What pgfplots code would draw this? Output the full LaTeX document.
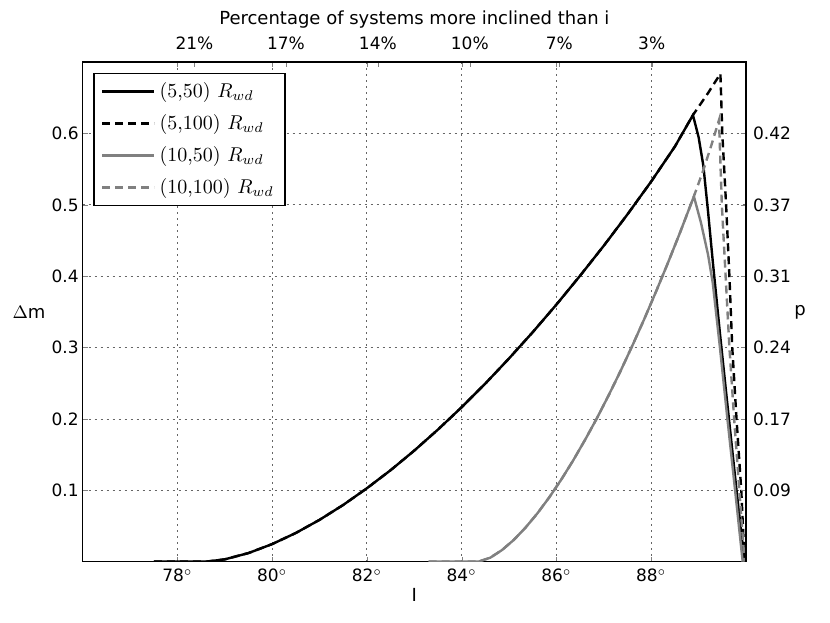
\documentclass[border=0pt]{standalone}
\usepackage{pgfplots}
\pgfplotsset{compat=1.18}
\usepackage{fontspec}
\setsansfont{DejaVu Sans}
\definecolor{lgray}{RGB}{128,128,128}
\begin{document}
\begin{tikzpicture}
\pgfplotsset{every axis/.append style={font=\sffamily\fontsize{8.5}{10}\selectfont},
  every axis label/.append style={font=\sffamily\fontsize{9}{11}\selectfont}}
\begin{axis}[name=main,
  width=331.65pt, height=249.7pt, scale only axis,
  xmin=76, xmax=90, ymin=0, ymax=0.7,
  xtick={78,80,82,84,86,88},
  xticklabels={78$^\circ$,80$^\circ$,82$^\circ$,84$^\circ$,86$^\circ$,88$^\circ$},
  ytick={0.1,0.2,0.3,0.4,0.5,0.6},
  yticklabels={0.1,0.2,0.3,0.4,0.5,0.6},
  yticklabel style={xshift=1.5pt},
  grid=major, grid style={black!60, line width=0.5pt, dash pattern=on 1pt off 2pt},
  tick align=inside, major tick length=2.5pt,
  axis line style={line width=0.8pt},
  every axis x label/.style={at={(rel axis cs:0.5,0)}, anchor=center, yshift=-16.65pt},
  every axis y label/.style={at={(rel axis cs:0,0.5)}, anchor=center, xshift=-26.85pt},
  xlabel={I}, ylabel={$\Delta$m},
  legend style={at={(0.016,0.979)}, anchor=north west,
    font=\rmfamily\fontsize{10}{12}\selectfont, draw=black, line width=0.8pt,
    row sep=3pt, inner xsep=3.5pt, inner ysep=2.5pt},
  legend cell align=left,
  legend image code/.code={\draw[#1, line width=1.2pt] (0pt,0pt) -- (16pt,0pt); \path (0pt,0pt) -- (26pt,0pt);},
]
\addplot[black, line width=1.2pt] coordinates {
(77.5,0) (78.0,0) (78.6,0) (79.0,0.0033) (79.5,0.0121) (80.0,0.0247) (80.5,0.0403)
(81.0,0.0587) (81.5,0.0796) (82.0,0.103) (82.5,0.1283) (83.0,0.1558) (83.5,0.1853)
(84.0,0.2166) (84.5,0.2498) (85.0,0.2850) (85.5,0.3218) (86.0,0.3605) (86.5,0.4010)
(87.0,0.4430) (87.5,0.4870) (88.0,0.5330) (88.5,0.5820) (88.88,0.6260)
(89.0,0.595) (89.1,0.555) (89.2,0.490) (89.3,0.420) (89.45,0.320) (89.6,0.225) (89.8,0.100) (89.97,0)
};
\addlegendentry{(5,50) $R_{wd}$}
\addplot[black, line width=1.2pt, dash pattern=on 4pt off 2.5pt] coordinates {
(77.5,0) (78.0,0) (78.6,0) (79.0,0.0033) (79.5,0.0121) (80.0,0.0247) (80.5,0.0403)
(81.0,0.0587) (81.5,0.0796) (82.0,0.103) (82.5,0.1283) (83.0,0.1558) (83.5,0.1853)
(84.0,0.2166) (84.5,0.2498) (85.0,0.2850) (85.5,0.3218) (86.0,0.3605) (86.5,0.4010)
(87.0,0.4430) (87.5,0.4870) (88.0,0.5330) (88.5,0.5820) (88.88,0.6260)
(89.2,0.657) (89.46,0.684)
(89.5,0.6) (89.58,0.5) (89.65,0.4) (89.71,0.3) (89.8,0.2) (89.9,0.1) (89.97,0)
};
\addlegendentry{(5,100) $R_{wd}$}
\addplot[lgray, line width=1.2pt] coordinates {
(83.3,0) (84.0,0) (84.35,0) (84.6,0.0055) (84.85,0.0163) (85.1,0.0306) (85.35,0.048)
(85.6,0.068) (85.85,0.0904) (86.1,0.115) (86.35,0.1417) (86.6,0.1704) (86.85,0.2007)
(87.1,0.2331) (87.35,0.267) (87.6,0.3026) (87.85,0.3397) (88.1,0.3784) (88.35,0.4185)
(88.6,0.460) (88.9,0.512)
(89.05,0.475) (89.2,0.430) (89.3,0.390) (89.45,0.300) (89.6,0.205) (89.77,0.100) (89.93,0)
};
\addlegendentry{(10,50) $R_{wd}$}
\addplot[lgray, line width=1.2pt, dash pattern=on 4pt off 2.5pt] coordinates {
(83.3,0) (84.0,0) (84.35,0) (84.6,0.0055) (84.85,0.0163) (85.1,0.0306) (85.35,0.048)
(85.6,0.068) (85.85,0.0904) (86.1,0.115) (86.35,0.1417) (86.6,0.1704) (86.85,0.2007)
(87.1,0.2331) (87.35,0.267) (87.6,0.3026) (87.85,0.3397) (88.1,0.3784) (88.35,0.4185)
(88.6,0.460) (88.9,0.512)
(89.1,0.549) (89.27,0.584) (89.43,0.619)
(89.49,0.5) (89.57,0.4) (89.65,0.3) (89.75,0.2) (89.86,0.1) (89.97,0)
};
\addlegendentry{(10,100) $R_{wd}$}
\end{axis}
\begin{axis}[
  width=331.65pt, height=249.7pt, scale only axis,
  xmin=76, xmax=90, ymin=0, ymax=0.7,
  axis x line*=top, axis y line*=right,
  axis line style={line width=0.8pt},
  xtick={78.36,80.29,82.23,84.17,86.06,88.01},
  xticklabels={21\%,17\%,14\%,10\%,7\%,3\%},
  xticklabel style={yshift=2.5pt},
  ytick={0.1,0.2,0.3,0.4,0.5,0.6},
  yticklabels={0.09,0.17,0.24,0.31,0.37,0.42},
  tick align=inside, major tick length=2.5pt,
  every axis x label/.style={at={(rel axis cs:0.5,1)}, anchor=center, yshift=21.15pt},
  every axis y label/.style={at={(rel axis cs:1,0.5)}, anchor=center, xshift=27pt},
  xlabel={Percentage of systems more inclined than i}, ylabel={p},
]
\addplot[draw=none] coordinates {(76,0) (90,0.7)};
\end{axis}
\pgfresetboundingbox
\path[use as bounding box] ([xshift=-41.35pt,yshift=-30.65pt]main.south west) rectangle ([xshift=42pt,yshift=31.15pt]main.north east);
\end{tikzpicture}
\end{document}
